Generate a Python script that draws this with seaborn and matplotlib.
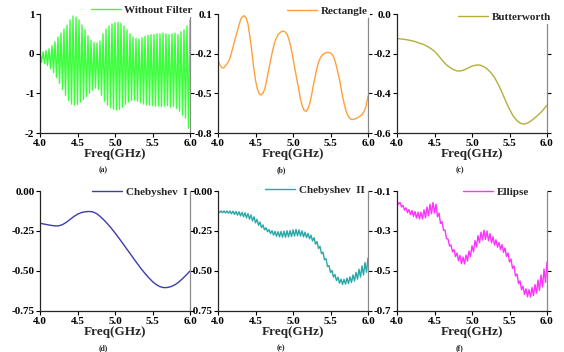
import matplotlib
matplotlib.use("Agg")
import matplotlib.pyplot as plt
import numpy as np
import pandas as pd
import seaborn as sns

# (a) without filter: oscillation peaks (4.00..6.00 step .04) and troughs (4.02..5.98 step .04)
raw_peaks = [0.05, 0.05, 0.08, 0.12, 0.20, 0.30, 0.42, 0.52, 0.62, 0.72, 0.85, 0.95, 0.92,
             0.85, 0.72, 0.60, 0.45, 0.33, 0.28, 0.27, 0.32, 0.50, 0.62, 0.70, 0.75, 0.78,
             0.79, 0.77, 0.70, 0.60, 0.50, 0.42, 0.38, 0.37, 0.40, 0.44, 0.46, 0.48, 0.48,
             0.50, 0.50, 0.52, 0.50, 0.48, 0.50, 0.52, 0.48, 0.55, 0.60, 0.70, 0.85]
raw_troughs = [-0.22, -0.25, -0.30, -0.38, -0.48, -0.60, -0.75, -0.90, -1.05, -1.18, -1.27,
               -1.30, -1.28, -1.22, -1.15, -1.08, -1.00, -0.92, -0.87, -0.90, -1.05, -1.20,
               -1.30, -1.36, -1.40, -1.42, -1.40, -1.35, -1.28, -1.22, -1.18, -1.17, -1.20,
               -1.24, -1.27, -1.29, -1.30, -1.31, -1.32, -1.32, -1.33, -1.32, -1.31, -1.35,
               -1.33, -1.38, -1.45, -1.55, -1.62, -1.88]

# rectangle window, sampled at 4.000..6.000 step .025
rect = [-0.250, -0.285, -0.305, -0.308, -0.292, -0.272, -0.248, -0.205, -0.150, -0.095,
        -0.045, 0.005, 0.055, 0.080, 0.087, 0.070, 0.025, -0.070, -0.180, -0.300,
        -0.400, -0.468, -0.503, -0.513, -0.498, -0.465, -0.400, -0.325, -0.255, -0.185,
        -0.125, -0.085, -0.058, -0.042, -0.032, -0.029, -0.038, -0.058, -0.100, -0.160,
        -0.235, -0.315, -0.390, -0.465, -0.545, -0.598, -0.630, -0.636, -0.615, -0.575,
        -0.505, -0.430, -0.360, -0.295, -0.250, -0.222, -0.205, -0.196, -0.191, -0.190,
        -0.195, -0.208, -0.235, -0.285, -0.345, -0.410, -0.490, -0.560, -0.620, -0.660,
        -0.685, -0.697, -0.698, -0.693, -0.688, -0.680, -0.670, -0.657, -0.635, -0.595,
        -0.520]
# smooth responses sampled at 4.00..6.00 step .05
butter = [-0.123, -0.126, -0.128, -0.131, -0.135, -0.14, -0.147, -0.153, -0.162, -0.174,
          -0.188, -0.208, -0.232, -0.253, -0.268, -0.28, -0.287, -0.287, -0.281, -0.272,
          -0.263, -0.258, -0.257, -0.264, -0.276, -0.295, -0.32, -0.355, -0.395, -0.44,
          -0.48, -0.515, -0.538, -0.552, -0.555, -0.548, -0.535, -0.52, -0.503, -0.483, -0.46]
cheby1 = [-0.202, -0.206, -0.211, -0.215, -0.218, -0.218, -0.21, -0.196, -0.178, -0.16,
          -0.145, -0.135, -0.13, -0.128, -0.13, -0.14, -0.158, -0.18, -0.205, -0.232,
          -0.262, -0.293, -0.325, -0.358, -0.39, -0.423, -0.455, -0.487, -0.515, -0.542,
          -0.566, -0.585, -0.598, -0.604, -0.603, -0.597, -0.586, -0.569, -0.548, -0.525, -0.50]

# rippled responses: peaks at 4.00..6.00 step .04, troughs at 4.02..5.98 step .04
cheby2_peaks = [-0.124, -0.125, -0.125, -0.125, -0.125, -0.126, -0.128, -0.13, -0.133, -0.136,
                -0.141, -0.149, -0.161, -0.177, -0.194, -0.212, -0.23, -0.241, -0.248, -0.252,
                -0.254, -0.253, -0.251, -0.248, -0.247, -0.243, -0.24, -0.243, -0.249, -0.257,
                -0.265, -0.276, -0.292, -0.316, -0.346, -0.382, -0.423, -0.466, -0.496, -0.522,
                -0.539, -0.551, -0.552, -0.544, -0.536, -0.524, -0.508, -0.489, -0.468, -0.447,
                -0.418]
cheby2_troughs = [-0.135, -0.136, -0.137, -0.139, -0.142, -0.146, -0.151, -0.156, -0.161, -0.168,
                  -0.176, -0.187, -0.199, -0.214, -0.229, -0.243, -0.255, -0.266, -0.276, -0.283,
                  -0.287, -0.289, -0.289, -0.287, -0.285, -0.282, -0.28, -0.282, -0.287, -0.291,
                  -0.299, -0.312, -0.332, -0.359, -0.392, -0.43, -0.472, -0.509, -0.538, -0.56,
                  -0.576, -0.584, -0.582, -0.578, -0.572, -0.563, -0.551, -0.538, -0.525, -0.508]
ellip_peaks = [-0.149, -0.157, -0.172, -0.184, -0.193, -0.198, -0.203, -0.206, -0.206, -0.194,
               -0.18, -0.166, -0.157, -0.166, -0.21, -0.253, -0.295, -0.34, -0.37, -0.393,
               -0.41, -0.422, -0.43, -0.42, -0.40, -0.374, -0.348, -0.323, -0.306, -0.296,
               -0.30, -0.313, -0.329, -0.344, -0.357, -0.368, -0.385, -0.41, -0.44, -0.475,
               -0.515, -0.549, -0.575, -0.589, -0.593, -0.583, -0.568, -0.545, -0.52, -0.49,
               -0.455]
ellip_troughs = [-0.166, -0.18, -0.196, -0.208, -0.218, -0.227, -0.235, -0.24, -0.24, -0.234,
                 -0.224, -0.213, -0.21, -0.229, -0.262, -0.296, -0.338, -0.375, -0.404, -0.428,
                 -0.449, -0.464, -0.465, -0.45, -0.428, -0.404, -0.38, -0.359, -0.345, -0.342,
                 -0.349, -0.359, -0.37, -0.381, -0.393, -0.407, -0.427, -0.455, -0.487, -0.525,
                 -0.563, -0.594, -0.617, -0.629, -0.63, -0.622, -0.611, -0.597, -0.58, -0.557]

labels = ["Without Filter", "Rectangle", "Butterworth", "Chebyshev  I", "Chebyshev  II", "Ellipse"]
captions = ["(a)", "(b)", "(c)", "(d)", "(e)", "(f)"]
colors = ["#3cff3c", "#ffa03c", "#b4ae3c", "#3c3caa", "#2aa8a8", "#ff33ff"]
yticks = [[1, 0, -1, -2], [0.1, -0.2, -0.5, -0.8], [0.0, -0.2, -0.4, -0.6],
          [0.00, -0.25, -0.50, -0.75], [0.00, -0.25, -0.50, -0.75], [-0.1, -0.3, -0.5, -0.7]]
ytick_fmt = ["{:.0f}", "{:.1f}", "{:.1f}", "{:.2f}", "{:.2f}", "{:.1f}"]
xticks = [4.0, 4.5, 5.0, 5.5, 6.0]


def zigzag(peaks, troughs):
    xp = np.linspace(4.0, 6.0, len(peaks))
    xt = np.linspace(4.02, 5.98, len(troughs))
    df = pd.DataFrame({"f": np.r_[xp, xt], "v": np.r_[peaks, troughs]})
    return df.sort_values("f")


grid = np.linspace(4.0, 6.0, 41)
frames = [
    zigzag(raw_peaks, raw_troughs),
    pd.DataFrame({"f": np.linspace(4.0, 6.0, len(rect)), "v": rect}),
    pd.DataFrame({"f": grid, "v": butter}),
    pd.DataFrame({"f": grid, "v": cheby1}),
    zigzag(cheby2_peaks, cheby2_troughs),
    zigzag(ellip_peaks, ellip_troughs),
]

sns.set_style("ticks")
plt.rcParams["font.family"] = ["Liberation Serif", "DejaVu Serif"]
plt.rcParams["font.weight"] = "bold"

fig = plt.figure(figsize=(5.64, 3.52), dpi=100)
W, H = 564, 352
lefts = [40, 218, 397]
rows = [(14, 133), (191, 311)]
# legend anchors (axes fraction): right edge, vertical centre
leg_pos = [(1.03, 1.035), (1.01, 1.025), (1.04, 0.975), (0.995, 0.99), (0.99, 1.008), (0.895, 0.99)]

for i in range(6):
    top, bot = rows[i // 3]
    left = lefts[i % 3]
    ax = fig.add_axes([left / W, 1 - bot / H, 150 / W, (bot - top) / H])
    d = frames[i]
    sns.lineplot(data=d, x="f", y="v", ax=ax, color=colors[i],
                 lw=1.0, estimator=None, sort=False, label=labels[i])
    ax.set_xlim(4.0, 6.0)
    ax.set_ylim(yticks[i][-1], yticks[i][0])
    ax.set_xticks(xticks)
    ax.set_xticklabels([f"{t:.1f}" for t in xticks])
    ax.set_yticks(yticks[i])
    ax.set_yticklabels([ytick_fmt[i].format(t) for t in yticks[i]])
    ax.tick_params(labelsize=8, length=3, width=0.8, pad=1, colors="black")
    ax.tick_params(axis="y", right=True, labelright=False)
    ax.spines["top"].set_visible(False)
    ax.spines["right"].set_color("#8a8a8a")
    for s in ["left", "bottom", "right"]:
        ax.spines[s].set_linewidth(0.9)
    ax.set_xlabel("Freq(GHz)", fontsize=9.5, fontweight="bold", labelpad=0)
    ax.set_ylabel("")
    ax.text(0.42, -0.31, captions[i], transform=ax.transAxes, fontsize=5.5,
            fontweight="bold", ha="center", va="center")
    lx, ly = leg_pos[i]
    leg = ax.legend(loc="center right", bbox_to_anchor=(lx, ly), frameon=True,
                    fontsize=8, handlelength=2.7, handletextpad=0.3, borderpad=0.2,
                    borderaxespad=0)
    leg.get_frame().set_edgecolor("none")
    leg.get_frame().set_facecolor("white")
    leg.get_frame().set_alpha(1)
    ax.set_zorder(10 - i)

fig.savefig("out.png", dpi=100)
plt.close(fig)
